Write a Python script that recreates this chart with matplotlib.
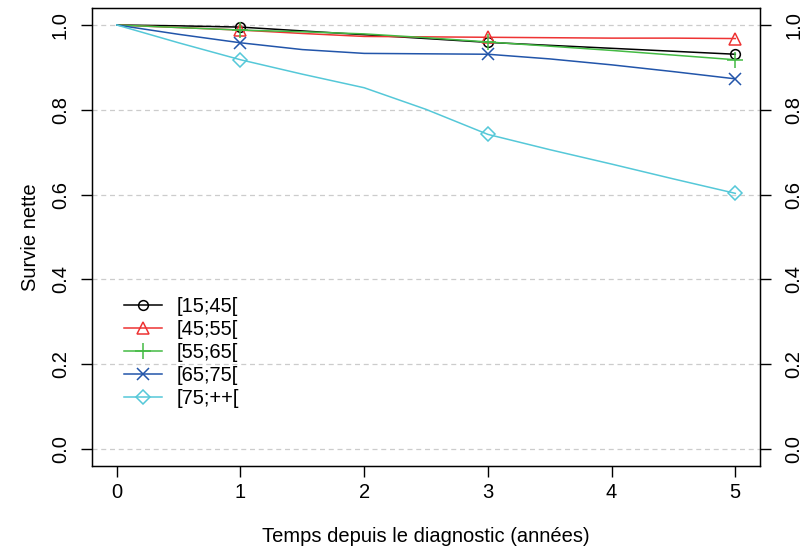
import matplotlib
matplotlib.use("Agg")
import matplotlib.pyplot as plt

# net survival by age group, read every half year
years = [0, 0.5, 1, 1.5, 2, 2.5, 3, 3.5, 4, 4.5, 5]
groups = ["[15;45[", "[45;55[", "[55;65[", "[65;75[", "[75;++["]
surv_15_45 = [1.0, 0.998, 0.995, 0.986, 0.977, 0.968, 0.959, 0.952, 0.945, 0.938, 0.931]
surv_45_55 = [1.0, 0.994, 0.988, 0.980, 0.973, 0.972, 0.971, 0.970, 0.969, 0.969, 0.968]
surv_55_65 = [1.0, 0.994, 0.988, 0.984, 0.979, 0.970, 0.960, 0.950, 0.940, 0.929, 0.918]
surv_65_75 = [1.0, 0.978, 0.958, 0.942, 0.933, 0.932, 0.931, 0.920, 0.906, 0.890, 0.873]
surv_75_pp = [1.0, 0.958, 0.918, 0.884, 0.852, 0.801, 0.742, 0.706, 0.672, 0.637, 0.603]
marker_years = [1, 3, 5]
yticks = [0, 0.2, 0.4, 0.6, 0.8, 1.0]
ytick_labels = ["0.0", "0.2", "0.4", "0.6", "0.8", "1.0"]

series = [surv_15_45, surv_45_55, surv_55_65, surv_65_75, surv_75_pp]
colors = ["#000000", "#EE3333", "#44BB44", "#2255AA", "#55C8D8"]
markers = ["o", "^", "+", "x", "D"]
msizes = [7, 9, 11, 8, 7]
FS = 14.5

plt.rcParams["font.family"] = ["Liberation Sans", "DejaVu Sans"]

fig = plt.figure(figsize=(8.03, 5.53), dpi=100)
ax = fig.add_axes([0.1146, 0.1573, 0.8319, 0.8282])

for y in yticks:
    ax.axhline(y, color="#CCCCCC", lw=0.9, ls=(0, (4, 3)), zorder=0)

for name, ys, c, m, ms in zip(groups, series, colors, markers, msizes):
    ax.plot(years, ys, color=c, lw=1.1)
    yk = [ys[years.index(t)] for t in marker_years]
    ax.plot(marker_years, yk, ls="none", marker=m, ms=ms, mfc="none",
            mec=c, mew=1.1)
    # legend proxy: line with one marker
    ax.plot([], [], color=c, lw=1.1, marker=m, ms=ms, mfc="none",
            mec=c, mew=1.1, label=name)

ax.set_xlim(-0.2, 5.2)
ax.set_ylim(-0.04, 1.04)
ax.set_xticks(range(6))
ax.set_yticks(yticks)
ax.set_yticklabels(ytick_labels, rotation=90, va="center")
ax.tick_params(axis="both", direction="out", length=8, width=1, labelsize=FS)
ax.tick_params(axis="x", pad=4)
ax.tick_params(axis="y", pad=8)

# right axis, same scale
ax2 = ax.twinx()
ax2.set_ylim(ax.get_ylim())
ax2.set_yticks(yticks)
ax2.set_yticklabels(ytick_labels, rotation=90, va="center")
ax2.tick_params(axis="y", direction="out", length=8, width=1, labelsize=FS, pad=9.5)

for s in ax.spines.values():
    s.set_linewidth(1)

ax.set_xlabel("Temps depuis le diagnostic (années)", fontsize=FS, labelpad=18)
ax.set_ylabel("Survie nette", fontsize=FS, labelpad=8)

handles, labels = ax.get_legend_handles_labels()
ax.legend(handles, labels, loc="upper left", bbox_to_anchor=(0.02, 0.408),
          frameon=False, fontsize=FS, handlelength=1.9, labelspacing=0.2,
          handletextpad=0.75)

fig.savefig("out.png", dpi=100)
